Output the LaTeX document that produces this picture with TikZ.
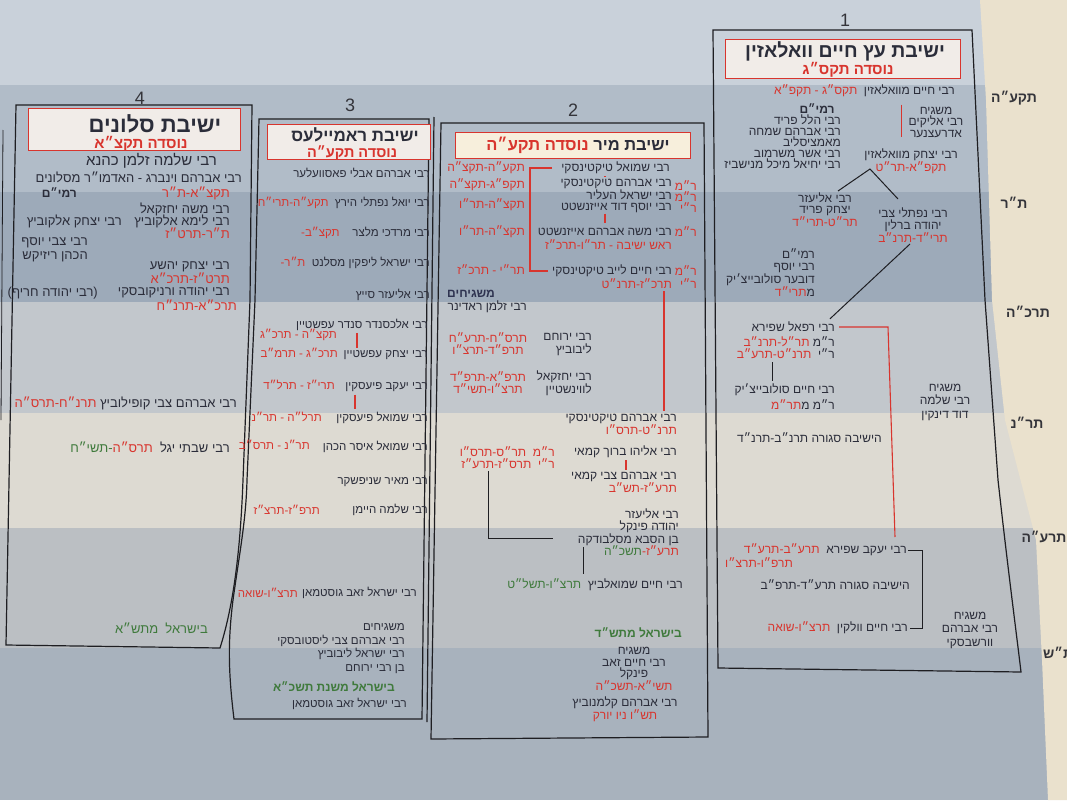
\documentclass[tikz,border=0pt]{standalone}
\usepackage{fontspec}
\newfontfamily\heb[Script=Hebrew]{Liberation Sans}
\TeXXeTstate=1
\newcommand\hb[1]{\beginR#1\endR}
\newcommand\clr[2]{\hbox{{\color{#1}#2}}}
\definecolor{ink}{HTML}{2B2D3A}
\definecolor{redc}{HTML}{D8352E}
\definecolor{greenc}{HTML}{3F7A3C}
\definecolor{framec}{HTML}{1E1E22}
\definecolor{labc}{HTML}{34343A}
\definecolor{navyc}{HTML}{2E3350}
\definecolor{bandA}{HTML}{C9D1DA}
\definecolor{bandB}{HTML}{B1BCC8}
\definecolor{bandC}{HTML}{9DAAB9}
\definecolor{bandD}{HTML}{C2C7CC}
\definecolor{bandE}{HTML}{DDDAD2}
\definecolor{bandF}{HTML}{BBBFC3}
\definecolor{bandG}{HTML}{A8B2BD}
\definecolor{cream}{HTML}{EAE1CD}
\definecolor{hdrA}{HTML}{F1ECE8}
\definecolor{hdrB}{HTML}{F7EFDC}
\begin{document}
\begin{tikzpicture}[x=1pt,y=-1pt,
  base/.style={inner sep=0pt, text=ink},
  fz/.style={base, font=\heb\fontsize{#1}{#1}\selectfont},
  fs/.style 2 args={base, font=\heb\fontsize{#1}{#2}\selectfont},
  fb/.style={base, font=\heb\bfseries\fontsize{#1}{#1}\selectfont},
  f1/.style={fs={12}{13}},
  f2/.style={fs={12}{13}},
  f3/.style={fs={11.5}{12.5}},
  f4/.style={fs={13}{13.5}},
  rd/.style={text=redc},
  gn/.style={text=greenc},
  lab/.style={base, font=\heb\bfseries\fontsize{14}{16}\selectfont, text=labc},
  num/.style={base, font=\heb\fontsize{18}{20}\selectfont, text=labc},
  hdrbox/.style={draw=redc, line width=1pt, fill=#1, inner sep=0pt},
  frame/.style={draw=framec, line width=1.2pt},
  conn/.style={draw=framec, line width=1pt},
  rconn/.style={draw=redc, line width=1.1pt}]
\useasboundingbox (0,0) rectangle (1067,800);
% ---------- background bands ----------
\fill[bandA] (0,0) rectangle (1067,85);
\fill[bandB] (0,85) rectangle (1067,192);
\fill[bandC] (0,192) rectangle (1067,302);
\fill[bandD] (0,302) rectangle (1067,413);
\fill[bandE] (0,413) rectangle (1067,528);
\fill[bandF] (0,528) rectangle (1067,648);
\fill[bandG] (0,648) rectangle (1067,800);
\fill[cream] (980,0) -- (1067,0) -- (1067,800) -- (1048,800) -- (1042,660) -- (1036,540) -- (1005,420) -- (992,300) -- (986,100) -- cycle;
% ---------- frames ----------
\draw[frame] (713,30) -- (972,30) -- (985,300) -- (998,480) .. controls (1008,570) and (1016,630) .. (1021,672) -- (718,668) -- cycle;
\draw[frame] (441,123) -- (704,123) -- (708,737) -- (431,739) -- cycle;
\draw[frame] (259,119) -- (429,119) -- (422,719) -- (234,719) .. controls (228,670) and (228,640) .. (233,600) .. controls (240,550) and (246,520) .. (247,480) -- (255,300) -- cycle;
\draw[frame] (434,117) -- (427,722);
\draw[frame] (16,105) -- (252,105) -- (250,300) -- (243,480) .. controls (240,560) and (232,610) .. (220,648) -- (6,645) -- cycle;
\draw[frame, line width=0.8pt] (3,130) -- (1,420);
% ---------- row labels ----------
\node[lab] (L1) at (1014,98) {\hb{תקע״ה}};
\node[lab] (L2) at (1014,203) {\hb{ת״ר}};
\node[lab] (L3) at (1028,312) {\hb{תרכ״ה}};
\node[lab] (L4) at (1027,423) {\hb{תר״נ}};
\node[lab] (L5) at (1044,537) {\hb{תרע״ה}};
\node[lab, anchor=west] (L6) at (1043,653) {\hb{ת״ש}};
% ================= column 1 =================
\node[num] (n1) at (845,20) {1};
\node[hdrbox=hdrA, minimum width=235pt, minimum height=38pt] (h1) at (842.5,59) {};
\node[fb=19.5] (h1t) at (845,51) {\hb{ישיבת עץ חיים וואלאזין}};
\node[fb=15, text=redc] (h1s) at (848,70) {\hb{נוסדה תקס״ג}};
\node[f1, anchor=east] (c1a) at (955,91) {\clr{redc}{\hb{תקס״ג - תקפ״א}}\ \ \hb{רבי חיים מוואלאזין}};
\node[fs={12}{11.5}, align=center] (c1m) at (936,122) {\hb{משגיח}\\\hb{רבי אליקים}\\\hb{אדרעצנער}};
\draw[rconn] ([xshift=-7pt,yshift=2pt]c1m.north west) -- ([xshift=-7pt]c1m.south west);
\node[fb=12] (c1r) at (817,109) {\hb{רמי״ם}};
\node[fs={12}{11}, anchor=east, align=right] (c1l) at (841,142) {\hb{רבי הלל פריד}\\\hb{רבי אברהם שמחה}\\\hb{מאמציסליב}\\\hb{רבי אשר משרמוב}\\\hb{רבי יחיאל מיכל מנישביז}};
\node[fs={12}{11}, align=center] (c1y) at (911,161) {\hb{רבי יצחק מוואלאזין}\\\clr{redc}{\hb{תקפ״א-תר״ט}}};
\node[fs={12}{11.5}, align=center] (c1e) at (825,209.5) {\hb{רבי אליעזר}\\\hb{יצחק פריד}\\\clr{redc}{\hb{תר״ט-תרי״ד}}};
\node[fs={12}{12.5}, align=center] (c1n) at (913,225) {\hb{רבי נפתלי צבי}\\\hb{יהודה ברלין}\\\clr{redc}{\hb{תרי״ד-תרנ״ב}}};
\coordinate (v1) at (870,169);
\coordinate (v1l) at (838,191);
\coordinate (v1r) at (898,199);
\draw[conn] (v1l) -- (v1) -- (v1r);
\node[fs={12}{12}, anchor=east, align=right] (c1s) at (815,273) {\hb{רמי״ם}\\\hb{רבי יוסף}\\\hb{דובער סולובייצ׳יק}\\\clr{redc}{\hb{תרי״ד}}\hb{מ}};
\node[f1, anchor=east] (c1rf) at (835,327) {\hb{רבי רפאל שפירא}};
\coordinate (v2) at (910,244);
\draw[conn] (v2) -- ([xshift=-5pt,yshift=3pt]c1rf.north east);
\node[fs={12}{12}, anchor=east, align=right] (c1rm) at (835,348) {\clr{redc}{\hb{תר״ל-תרנ״ב}}\ \hb{ר״מ}\\\clr{redc}{\hb{תרנ״ט-תרע״ב}}\ \ \hb{ר״י}};
\node[fs={12}{16}, anchor=east, align=right] (c1ch) at (835,397) {\hb{רבי חיים סולובייצ׳יק}\\\clr{redc}{\hb{תר״מ}}\hb{ר״מ מ}};
\coordinate (t1) at (772,0);
\draw[conn] ([yshift=-3pt]c1rm.south -| t1) -- ([yshift=3pt]c1ch.north -| t1);
\node[fs={12}{13.5}, align=center] (c1ds) at (945,402) {\hb{משגיח}\\\hb{רבי שלמה}\\\hb{דוד דינקין}};
\node[f1, anchor=east] (c1cl) at (882,438) {\hb{הישיבה סגורה תרנ״ב-תרנ״ד}};
\node[f1, anchor=east] (c1ya) at (907,550) {\clr{redc}{\hb{תרע״ב-תרע״ד}}\ \ \hb{רבי יעקב שפירא}};
\coordinate (r1end) at (895,537);
\draw[rconn] ([xshift=4pt]c1rf.east) -- ++(49,0) -- (r1end);
\node[f1, rd, anchor=west] (c1yb) at (725,563) {\hb{תרפ״ו-תרצ״ו}};
\node[f1, anchor=east] (c1cl2) at (910,585) {\hb{הישיבה סגורה תרע״ד-תרפ״ב}};
\node[f1, anchor=east] (c1vo) at (908,628) {\clr{redc}{\hb{תרצ״ו-שואה}}\ \ \hb{רבי חיים וולקין}};
\draw[conn] ([xshift=1pt]c1ya.east) -- ++(14,0) |- ([xshift=2pt]c1vo.east);
\node[fs={12}{13.5}, align=center] (c1aw) at (970,630) {\hb{משגיח}\\\hb{רבי אברהם}\\\hb{וורשבסקי}};
% ================= column 2 =================
\node[num] (n2) at (573,110) {2};
\node[hdrbox=hdrB, minimum width=235pt, minimum height=26pt] (h2) at (572.5,145) {};
\node[fb=16.5] (h2t) at (578,145) {\clr{redc}{\hb{נוסדה תקע״ה}}\ \hb{ישיבת מיר}};
\node[f2, anchor=east] (m1) at (670,168) {\hb{רבי שמואל טיקטינסקי}};
\node[fs={12}{10.5}, anchor=east, align=right] (m2) at (672,196) {\hb{רבי אברהם טיקטינסקי}\\\hb{רבי ישראל העליר}\\\hb{רבי יוסף דוד אייזנשטט}};
\node[fs={12}{11}, rd, anchor=east, align=right] (m2l) at (697,197) {\hb{ר״מ}\\\hb{ר״מ}\\\hb{ר״י}};
\node[f2, anchor=east] (m3) at (672,232) {\hb{רבי משה אברהם אייזנשטט}};
\node[f2, rd, anchor=east] (m3l) at (697,232) {\hb{ר״מ}};
\node[f2, rd, anchor=east] (m3d) at (672,245) {\hb{ראש ישיבה - תר״ו-תרכ״ז}};
\node[f2, anchor=east] (m4) at (672,271) {\hb{רבי חיים לייב טיקטינסקי}};
\node[f2, rd, anchor=east] (m4l) at (697,271) {\hb{ר״מ}};
\node[f2, rd, anchor=east] (m4d) at (672,284) {\hb{תרכ״ז-תרנ״ט}};
\node[f2, rd, anchor=east] (m4dl) at (697,284) {\hb{ר״י}};
\node[f2, rd, anchor=east] (md1) at (525,168) {\hb{תקע״ה-תקצ״ה}};
\node[f2, rd, anchor=east] (md2) at (525,185) {\hb{תקפ״ג-תקצ״ה}};
\node[f2, rd, anchor=east] (md3) at (525,205) {\hb{תקצ״ה-תר״ו}};
\node[f2, rd, anchor=east] (md4) at (525,232) {\hb{תקצ״ה-תר״ו}};
\node[f2, rd, anchor=east] (md5) at (525,270) {\hb{תר״י - תרכ״ז}};
\coordinate (mb) at (530,0);
\draw[rconn] ([xshift=-9pt]m1.west) -- (m1.west -| mb) |- ([xshift=-4pt]m4.west);
\coordinate (mt) at (605,0);
\draw[rconn] ([yshift=-2pt]m1.south -| mt) -- ([yshift=2pt]m2.north -| mt);
\draw[rconn] ([yshift=-1pt]m2.south -| mt) -- ([yshift=5pt]m3.north -| mt);
\node[fb=12, text=navyc, anchor=east] (mg) at (495,294) {\hb{משגיחים}};
\node[f2, anchor=east] (mz) at (527,307) {\hb{רבי זלמן ראדינר}};
\node[fs={12}{13}, anchor=east, align=right] (my) at (592,345) {\hb{רבי ירוחם}\\\hb{ליבוביץ}};
\node[fs={12}{12}, rd, align=center] (myd) at (488,344) {\hb{תרס״ח-תרע״ח}\\\hb{תרפ״ד-תרצ״ו}};
\node[fs={12}{13}, anchor=east, align=right] (mye) at (592,383.5) {\hb{רבי יחזקאל}\\\hb{לווינשטיין}};
\node[fs={12}{12}, rd, align=center] (myed) at (488,382.5) {\hb{תרפ״א-תרפ״ד}\\\hb{תרצ״ו-תשי״ד}};
\node[fs={12}{12}, anchor=east, align=right] (m6) at (677,424) {\hb{רבי אברהם טיקטינסקי}\\\clr{redc}{\hb{תרנ״ט-תרס״ו}}};
\coordinate (mv) at (664,0);
\draw[rconn] ([yshift=-2pt]m4d.south -| mv) -- ([yshift=3pt]m6.north -| mv);
\node[f2, anchor=east] (m7) at (677,452) {\hb{רבי אליהו ברוך קמאי}};
\node[fs={12}{11.5}, rd, anchor=east, align=right] (m7d) at (555,457.5) {\hb{ר״מ\ \ תר״ס-תרס״ו}\\\hb{ר״י\ \ תרס״ז-תרע״ז}};
\node[fs={12}{12}, anchor=east, align=right] (m8) at (677,482.5) {\hb{רבי אברהם צבי קמאי}\\\clr{redc}{\hb{תרע״ז-תש״ב}}};
\coordinate (mt3) at (626,0);
\draw[rconn] ([yshift=-2pt]m7.south -| mt3) -- ([yshift=2pt]m8.north -| mt3);
\node[fs={12}{12.5}, anchor=east, align=right] (m9) at (679,532) {\hb{רבי אליעזר}\\\hb{יהודה פינקל}\\\hb{בן הסבא מסלבודקה}\\\clr{greenc}{\hb{תשכ״ה}}\clr{redc}{\hb{תרע״ז\kern0pt-}}};
\coordinate (mk) at (488,0);
\coordinate (mkend) at (553,538);
\draw[conn] ([yshift=-3pt]m7d.south -| mk) |- (mkend);
\node[f2, anchor=east] (m10) at (683,585) {\clr{greenc}{\hb{תרצ״ו-תשל״ט}}\ \ \hb{רבי חיים שמואלביץ}};
\coordinate (mt2) at (583,0);
\draw[conn] ([yshift=9pt]m9.south -| mt2) -- ([yshift=5pt]m10.north -| mt2);
\node[fb=12, text=greenc, anchor=east] (m11) at (682,633) {\hb{בישראל מתש״ד}};
\node[fs={12}{11.3}, align=center] (m12) at (634,669) {\hb{משגיח}\\\hb{רבי חיים זאב}\\\hb{פינקל}\\\clr{redc}{\hb{תשי״א-תשכ״ה}}};
\node[fs={12}{12}, align=center] (m13) at (625,709) {\hb{רבי אברהם קלמנוביץ}\\\clr{redc}{\hb{תש״ו ניו יורק}}};
% ================= column 3 =================
\node[num] (n3) at (350,105) {3};
\node[hdrbox=hdrA, minimum width=163pt, minimum height=35pt] (h3) at (348.5,141.5) {};
\node[fb=17] (h3t) at (355,135) {\hb{ישיבת ראמיילעס}};
\node[fb=14.5, text=redc] (h3s) at (352,153) {\hb{נוסדה תקע״ה}};
\node[f3, anchor=east] (r1) at (430,173) {\hb{רבי אברהם אבלי פאסוועלער}};
\node[f3, anchor=east] (r2) at (430,203) {\clr{redc}{\hb{תקע״ה-תרי״ח}}\ \ \hb{רבי יואל נפתלי הירץ}};
\node[f3, anchor=east] (r3) at (430,233) {\clr{redc}{\hb{תקצ״ב\kern0pt-}}\ \ \ \ \hb{רבי מרדכי מלצר}};
\node[f3, anchor=east] (r4) at (430,263) {\clr{redc}{\hb{ת״ר\kern0pt-}}\ \ \hb{רבי ישראל ליפקין מסלנט}};
\node[f3, anchor=east] (r5) at (430,295) {\hb{רבי אליעזר סייץ}};
\node[f3, anchor=east] (r6) at (428,325) {\hb{רבי אלכסנדר סנדר עפשטיין}};
\node[f3, rd, anchor=east] (r6d) at (337,335) {\hb{תקצ״ה - תרכ״ג}};
\node[f3, anchor=east] (r7) at (428,355) {\hb{רבי יצחק עפשטיין}};
\node[f3, rd, anchor=east] (r7d) at (338,353) {\hb{תרכ״ג - תרמ״ב}};
\coordinate (rt1) at (357,0);
\draw[rconn] ([yshift=-2pt]r6.south -| rt1) -- ([yshift=2pt]r7.north -| rt1);
\node[f3, anchor=east] (r8) at (428,387) {\hb{רבי יעקב פיעסקין}};
\node[f3, rd, anchor=east] (r8d) at (335,385) {\hb{תרי״ז - תרל״ד}};
\node[f3, anchor=east] (r9) at (428,418) {\hb{רבי שמואל פיעסקין}};
\node[f3, rd, anchor=east] (r9d) at (322,417) {\hb{תרל״ה - תר״נ}};
\coordinate (rt2) at (355,0);
\draw[rconn] ([yshift=-3pt]r8.south -| rt2) -- ([yshift=3pt]r9.north -| rt2);
\node[f3, anchor=east] (r10) at (428,447) {\hb{רבי שמואל איסר הכהן}};
\node[f3, rd, anchor=east] (r10d) at (310,445) {\hb{תר״נ - תרס״ב}};
\node[f3, anchor=east] (r11) at (428,482) {\hb{רבי מאיר שניפשקר}};
\node[f3, anchor=east] (r12) at (428,510) {\hb{רבי שלמה היימן}};
\node[f3, rd, anchor=east] (r12d) at (320,510) {\hb{תרפ״ז-תרצ״ז}};
\node[f3, anchor=east] (r13) at (417,593) {\hb{רבי ישראל זאב גוסטמאן}};
\node[f3, rd, anchor=east] (r13d) at (298,593) {\hb{תרצ״ו-שואה}};
\node[fs={11.5}{13.5}, anchor=east, align=right] (r14) at (405,648.5) {\hb{משגיחים}\\\hb{רבי אברהם צבי ליסטובסקי}\\\hb{רבי ישראל ליבוביץ}\\\hb{בן רבי ירוחם}};
\node[fb=12, text=greenc, anchor=east] (r15) at (395,687) {\hb{בישראל משנת תשכ״א}};
\node[f3, anchor=east] (r16) at (407,704) {\hb{רבי ישראל זאב גוסטמאן}};
% ================= column 4 =================
\node[num] (n4) at (140,98) {4};
\node[hdrbox=hdrA, minimum width=212pt, minimum height=42pt] (h4) at (134,129) {};
\node[fb=22] (h4t) at (155,124) {\hb{ישיבת סלונים}};
\node[fb=15, text=redc] (h4s) at (141,144) {\hb{נוסדה תקצ״א}};
\node[fz=15, anchor=east] (s1) at (217,161) {\hb{רבי שלמה זלמן כהנא}};
\node[fz=13, anchor=east] (s2) at (242,177) {\hb{רבי אברהם וינברג - האדמו״ר מסלונים}};
\node[fb=12, anchor=east] (s3) at (77,193) {\hb{רמי״ם}};
\node[f4, rd, anchor=east] (s3d) at (230,193) {\hb{תקצ״א-ת״ר}};
\node[f4, anchor=east] (s4) at (230,209) {\hb{רבי משה יחזקאל}};
\node[f4, anchor=east] (s5) at (230,221) {\hb{רבי לימא אלקוביץ}};
\node[f4, anchor=east] (s6) at (122,221) {\hb{רבי יצחק אלקוביץ}};
\node[f4, rd, anchor=east] (s5d) at (230,233) {\hb{ת״ר-תרט״ז}};
\node[fs={13}{14}, anchor=east, align=right] (s7) at (88,250) {\hb{רבי צבי יוסף}\\\hb{הכהן ריזיקש}};
\node[fs={13}{11.5}, anchor=east, align=right] (s8) at (230,273) {\hb{רבי יצחק יהשע}\\\clr{redc}{\hb{תרט״ז-תרכ״א}}};
\node[f4, anchor=east] (s9) at (230,293) {\hb{רבי יהודה ורניקובסקי}};
\node[f4, anchor=east] (s10) at (98,293) {\hb{(רבי יהודה חריף)}};
\node[f4, rd, anchor=east] (s9d) at (237,305) {\hb{תרכ״א-תרנ״ח}};
\node[f4, anchor=east] (s11) at (237,403) {\clr{redc}{\hb{תרנ״ח-תרס״ה}}\ \hb{רבי אברהם צבי קופילוביץ}};
\node[f4, anchor=east] (s12) at (230,447) {\clr{greenc}{\hb{-\kern0ptתשי״ח}}\clr{redc}{\hb{תרס״ה}}\ \ \hb{רבי שבתי יגל}};
\node[f4, gn, anchor=east] (s13) at (208,628) {\hb{בישראל\ \ מתש״א}};
\end{tikzpicture}
\end{document}
